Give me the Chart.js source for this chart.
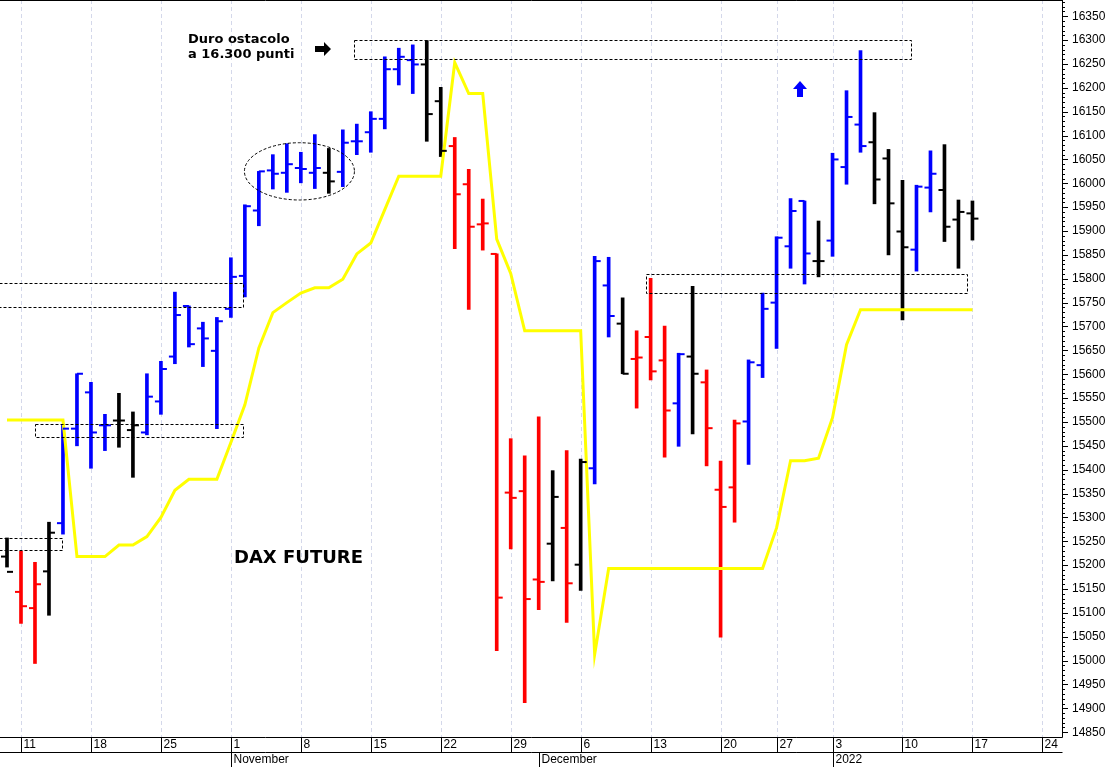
<!DOCTYPE html>
<html>
<head>
<meta charset="utf-8">
<script src="https://cdn.jsdelivr.net/npm/chart.js@4/dist/chart.umd.min.js"></script>
<style>
  html, body { margin: 0; padding: 0; background: #fff; }
  canvas { display: block; }
</style>
</head>
<body>
<canvas id="chart" width="1120" height="767"></canvas>
<script>
// daily bars, Oct 8 2021 -> Jan 17 2022 (index 0 = Oct 8)
const highs = [15257,15229,15206,15290,15495,15601,15583,15516,15560,15521,15601,15627,15772,15743,15709,15719,15844,15955,16025,16060,16083,16065,16102,16073,16112,16124,16150,16265,16283,16290,16299,16201,16096,16029,15967,15852,15465,15429,15511,15398,15440,15422,15847,15845,15760,15691,15801,15701,15644,15784,15609,15418,15504,15630,15770,15888,15968,15963,15921,16063,16194,16278,16148,16071,16006,15996,16068,16081,15965,15963]
const lows = [15196,15078,14994,15095,15265,15450,15403,15440,15447,15384,15473,15516,15622,15657,15616,15486,15719,15762,15911,15988,15981,16001,15989,15979,15993,16060,16065,16114,16206,16188,16088,16056,15863,15736,15860,15021,15234,14912,15107,15167,15080,15147,15370,15678,15601,15529,15588,15426,15449,15475,15408,15049,15290,15411,15593,15654,15822,15789,15804,15847,15998,16065,15957,15850,15714,15816,15940,15878,15822,15881]
const opens = [15218,15144,15110,15187,15288,15486,15562,15493,15503,15483,15478,15543,15637,15743,15696,15649,15737,15806,15943,16027,16022,16032,16022,16022,16024,16088,16107,16135,16239,16258,16249,16172,16078,15998,15914,15852,15352,15355,15170,15245,15278,15201,15403,15786,15706,15632,15678,15629,15539,15637,15583,15358,15363,15501,15619,15750,15868,15963,15837,15880,16034,16123,16086,16052,15899,15861,15991,15986,15924,15937]
const closes = [15186,15114,15160,15268,15486,15601,15478,15493,15503,15493,15553,15611,15724,15663,15675,15711,15804,15952,16025,16020,16040,16030,16032,16004,16085,16088,16135,16239,16265,16249,16145,16068,15977,15909,15916,15132,15341,15129,15165,15343,15162,15416,15837,15722,15601,15635,15606,15524,15642,15601,15487,15322,15497,15625,15737,15886,15942,15853,15837,16050,16139,16078,16008,15958,15866,15993,16020,15909,15940,15926]
// b = up (blue), r = down (red), k = neutral (black)
const signal = "krrkbbbbkkbbbbbbbbbbbbbkbbbbbbkkrrrrrrrkrkbbkrrrbkrrrbbbbbkbbbkkkbbkkk"
const trail = [15504,15504,15504,15504,15504,15218,15218,15218,15242,15242,15260,15300,15357,15380,15380,15380,15457,15536,15655,15729,15750,15770,15781,15781,15799,15852,15875,15945,16015,16015,16015,16015,16253,16188,16188,15883,15811,15691,15691,15691,15691,15691,15013,15193,15193,15193,15193,15193,15193,15193,15193,15193,15193,15193,15193,15278,15419,15419,15424,15509,15662,15735,15735,15735,15735,15735,15735,15735,15735,15735]

// x axis: week starts (index, label) and months
const weekIdx = [1,6,11,16,21,26,31,36,41,46,51,55,59,64,69,74]
const weekLbl = ["11","18","25","1","8","15","22","29","6","13","20","27","3","10","17","24"]
const monthIdx = [16,38,59]
const monthLbl = ["November","December","2022"]
const priceMin = 14840, priceMax = 16384
const priceTickFirst = 14850, priceTickLast = 16350

// annotation boxes [x0, x1, yLow, yHigh]
const boxes = [[24.8,64.6,16260,16300],[45.7,68.6,15770,15811],[-0.6,16.9,15740,15791],[2.0,16.9,15468,15495],[-0.6,3.9,15232,15257]]

const colorOf = {b:'#0000ff', r:'#ff0000', k:'#000000'}
const barColors = signal.split('').map(s => colorOf[s])

const overlay = {
  id: 'overlay',
  beforeDatasetsDraw(chart){
    const {ctx, chartArea:a, scales:{x}} = chart
    ctx.save()
    ctx.strokeStyle = '#d4d8ea'
    ctx.lineWidth = 1
    ctx.setLineDash([4,3])
    weekIdx.forEach(i => {
      const px = Math.round(x.getPixelForValue(i)) + 0.5
      ctx.beginPath(); ctx.moveTo(px, a.top); ctx.lineTo(px, a.bottom); ctx.stroke()
    })
    ctx.restore()
  },
  afterDatasetsDraw(chart){
    const {ctx, chartArea:a, scales:{x, y}} = chart
    ctx.save()
    // open / close ticks
    ctx.lineWidth = 2
    highs.forEach((h,i) => {
      const px = x.getPixelForValue(i)
      ctx.strokeStyle = barColors[i]
      const yo = y.getPixelForValue(opens[i]), yc = y.getPixelForValue(closes[i])
      ctx.beginPath(); ctx.moveTo(px-6, yo); ctx.lineTo(px, yo); ctx.stroke()
      ctx.beginPath(); ctx.moveTo(px, yc); ctx.lineTo(px+6, yc); ctx.stroke()
    })
    // dashed boxes
    ctx.strokeStyle = '#000'
    ctx.lineWidth = 1
    ctx.setLineDash([3,2])
    boxes.forEach(b => {
      const x0 = Math.round(x.getPixelForValue(b[0]))+0.5, x1 = Math.round(x.getPixelForValue(b[1]))+0.5
      const y0 = Math.round(y.getPixelForValue(b[3]))+0.5, y1 = Math.round(y.getPixelForValue(b[2]))+0.5
      ctx.strokeRect(x0, y0, x1-x0, y1-y0)
    })
    // ellipse around consolidation
    const cx = x.getPixelForValue(20.9), cy = y.getPixelForValue(16025)
    ctx.beginPath()
    ctx.ellipse(cx, cy, 55, y.getPixelForValue(15965)-cy, 0, 0, Math.PI*2)
    ctx.stroke()
    ctx.setLineDash([])
    // texts
    ctx.fillStyle = '#000'
    ctx.font = 'bold 13px "DejaVu Sans", Arial, sans-serif'
    ctx.textBaseline = 'middle'
    ctx.fillText('Duro ostacolo', 188, 40)
    ctx.fillText('a 16.300 punti', 188, 55)
    ctx.font = 'bold 18px "DejaVu Sans", Arial, sans-serif'
    ctx.fillText('DAX FUTURE', 234, 558)
    // black arrow right
    ctx.beginPath()
    ctx.moveTo(315, 46); ctx.lineTo(324, 46); ctx.lineTo(324, 42); ctx.lineTo(331, 49)
    ctx.lineTo(324, 56); ctx.lineTo(324, 52); ctx.lineTo(315, 52); ctx.closePath(); ctx.fill()
    // blue arrow up
    ctx.fillStyle = '#0000ff'
    ctx.beginPath()
    ctx.moveTo(800, 81); ctx.lineTo(807, 89); ctx.lineTo(803, 89); ctx.lineTo(803, 97)
    ctx.lineTo(797, 97); ctx.lineTo(797, 89); ctx.lineTo(793, 89); ctx.closePath(); ctx.fill()
    ctx.restore()
  },
  afterDraw(chart){
    const {ctx, chartArea:a, scales:{x, y}} = chart
    ctx.save()
    ctx.strokeStyle = '#000'
    ctx.lineWidth = 1
    // frame
    ctx.beginPath()
    ctx.moveTo(0, 0.5); ctx.lineTo(a.right+0.5, 0.5)
    ctx.moveTo(a.right+0.5, 0); ctx.lineTo(a.right+0.5, a.bottom+0.5)
    ctx.moveTo(0, a.bottom+0.5); ctx.lineTo(a.right+0.5, a.bottom+0.5)
    ctx.moveTo(0, a.bottom+15.5); ctx.lineTo(a.right+0.5, a.bottom+15.5)
    ctx.stroke()
    // minor ticks on price axis
    for (let v = priceTickFirst; v <= 16380; v += 10) {
      const py = Math.round(y.getPixelForValue(v))+0.5
      ctx.beginPath(); ctx.moveTo(a.right, py); ctx.lineTo(a.right+(v%50===0?6:3), py); ctx.stroke()
    }
    ctx.fillStyle = '#000'
    ctx.font = '12px Arial, "Liberation Sans", sans-serif'
    ctx.textBaseline = 'middle'
    weekIdx.forEach((i,k) => {
      const px = Math.round(x.getPixelForValue(i))+0.5
      ctx.beginPath(); ctx.moveTo(px, a.bottom); ctx.lineTo(px, a.bottom+15); ctx.stroke()
      ctx.fillText(weekLbl[k], px+2, a.bottom+8)
    })
    monthIdx.forEach((i,k) => {
      const px = Math.round(x.getPixelForValue(i))+0.5
      ctx.beginPath(); ctx.moveTo(px, a.bottom+15); ctx.lineTo(px, a.bottom+30); ctx.stroke()
      ctx.fillText(monthLbl[k], px+2, a.bottom+23)
    })
    ctx.restore()
  }
}

new Chart(document.getElementById('chart'), {
  type: 'bar',
  data: {
    datasets: [
      {
        type: 'line',
        data: trail.map((v,i) => ({x:i, y:v})),
        borderColor: '#ffff00',
        borderWidth: 3,
        pointRadius: 0,
        tension: 0
      },
      {
        type: 'bar',
        data: highs.map((h,i) => ({x:i, y:[lows[i], h]})),
        backgroundColor: barColors,
        barThickness: 3,
        grouped: false
      }
    ]
  },
  plugins: [overlay],
  options: {
    responsive: false,
    animation: false,
    devicePixelRatio: 1,
    layout: { padding: { left: 0, right: 0, top: 0, bottom: 30 } },
    plugins: { legend: { display: false }, tooltip: { enabled: false } },
    scales: {
      x: { type: 'linear', min: -0.5, max: 75.4, display: false, offset: false },
      y: {
        position: 'right',
        min: priceMin, max: priceMax,
        afterFit: s => { s.width = 58; s.paddingTop = 0; s.paddingBottom = 0 },
        afterBuildTicks: s => {
          const t = []
          for (let v = priceTickFirst; v <= priceTickLast; v += 50) t.push({value: v})
          s.ticks = t
        },
        ticks: { autoSkip: false, color: '#000', padding: 10, font: { family: 'Arial', size: 12 }, callback: v => String(v) },
        grid: { drawOnChartArea: false, drawTicks: false },
        border: { display: false }
      }
    }
  }
})
</script>
</body>
</html>
